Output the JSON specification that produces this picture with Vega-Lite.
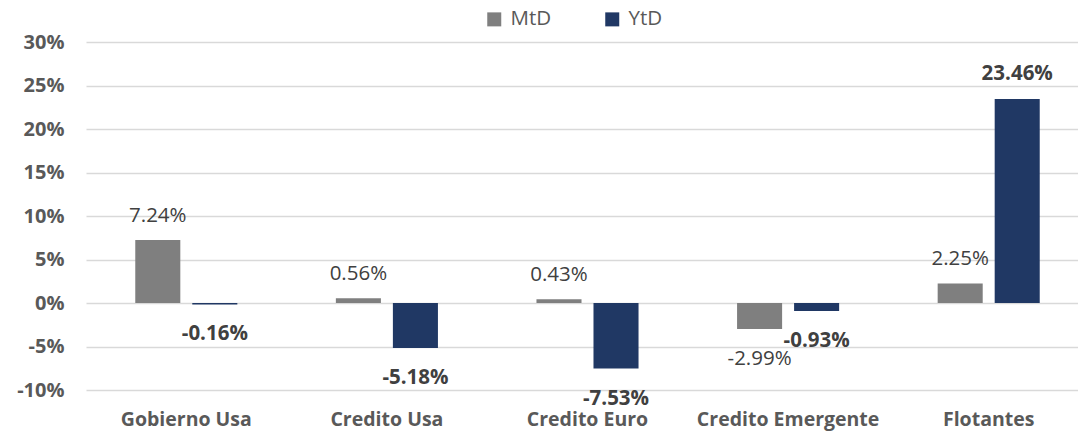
{
  "$schema": "https://vega.github.io/schema/vega-lite/v6.json",
  "width": 992,
  "height": 348,
  "autosize": {"type": "none"},
  "padding": {"left": 86, "top": 42, "right": 0, "bottom": 45},
  "background": "white",
  "config": {
    "view": {"stroke": null},
    "font": "Open Sans",
    "locale": {"number": {"decimal": ".", "thousands": ",", "grouping": [3], "currency": ["$", ""], "minus": "-"}}
  },
  "data": {
    "values": [
      {"cat": "Gobierno Usa", "serie": "MtD", "v": 0.0724},
      {"cat": "Gobierno Usa", "serie": "YtD", "v": -0.0016},
      {"cat": "Credito Usa", "serie": "MtD", "v": 0.0056},
      {"cat": "Credito Usa", "serie": "YtD", "v": -0.0518},
      {"cat": "Credito Euro", "serie": "MtD", "v": 0.0043},
      {"cat": "Credito Euro", "serie": "YtD", "v": -0.0753},
      {"cat": "Credito Emergente", "serie": "MtD", "v": -0.0299},
      {"cat": "Credito Emergente", "serie": "YtD", "v": -0.0093},
      {"cat": "Flotantes", "serie": "MtD", "v": 0.0225},
      {"cat": "Flotantes", "serie": "YtD", "v": 0.2346}
    ]
  },
  "encoding": {
    "x": {
      "field": "cat", "type": "nominal", "sort": null,
      "scale": {"range": [0, 1003], "paddingInner": 0, "paddingOuter": 0},
      "axis": {"title": null, "labelAngle": 0, "domain": false, "ticks": false, "labelFont": "Open Sans", "labelFontWeight": "bold", "labelFontSize": 19.5, "labelColor": "#595959", "labelPadding": 20, "labelLimit": 0}
    },
    "xOffset": {
      "field": "serie", "type": "nominal",
      "scale": {"paddingInner": 0.21, "paddingOuter": 0.864}
    },
    "y": {
      "field": "v", "type": "quantitative",
      "scale": {"domain": [-0.1, 0.3], "nice": false, "zero": false},
      "axis": {"title": null, "format": ".0%", "values": [-0.1, -0.05, 0, 0.05, 0.1, 0.15, 0.2, 0.25, 0.3], "domain": false, "ticks": false, "gridColor": "#d9d9d9", "gridWidth": 1.5, "labelFont": "Open Sans", "labelFontWeight": "bold", "labelFontSize": 20, "labelColor": "#595959", "labelPadding": 22}
    }
  },
  "layer": [
    {
      "mark": {"type": "bar"},
      "encoding": {
        "color": {
          "field": "serie", "type": "nominal",
          "scale": {"domain": ["MtD", "YtD"], "range": ["#7f7f7f", "#203864"]},
          "legend": {"title": null, "orient": "none", "direction": "horizontal", "legendX": 398, "legendY": -33, "symbolType": "square", "symbolSize": 196, "symbolStrokeWidth": 0, "labelFontSize": 20.5, "labelFont": "Open Sans", "labelColor": "#595959", "columnPadding": 50, "labelOffset": 6}
        }
      }
    },
    {
      "transform": [{"filter": "datum.serie == 'MtD' && datum.v >= 0"}],
      "mark": {"type": "text", "baseline": "alphabetic", "dy": -18, "fontSize": 20.5, "color": "#404040"},
      "encoding": {"text": {"field": "v", "format": ".2%"}}
    },
    {
      "transform": [{"filter": "datum.serie == 'MtD' && datum.v < 0"}],
      "mark": {"type": "text", "baseline": "alphabetic", "dy": 36, "fontSize": 20.5, "color": "#404040"},
      "encoding": {"text": {"field": "v", "format": ".2%"}}
    },
    {
      "transform": [{"filter": "datum.serie == 'YtD' && datum.v >= 0"}],
      "mark": {"type": "text", "baseline": "alphabetic", "dy": -19, "fontSize": 20.5, "fontWeight": "bold", "color": "#404040"},
      "encoding": {"text": {"field": "v", "format": ".2%"}}
    },
    {
      "transform": [{"filter": "datum.serie == 'YtD' && datum.v < 0"}],
      "mark": {"type": "text", "baseline": "alphabetic", "dy": 36, "fontSize": 20.5, "fontWeight": "bold", "color": "#404040"},
      "encoding": {"text": {"field": "v", "format": ".2%"}}
    }
  ]
}
